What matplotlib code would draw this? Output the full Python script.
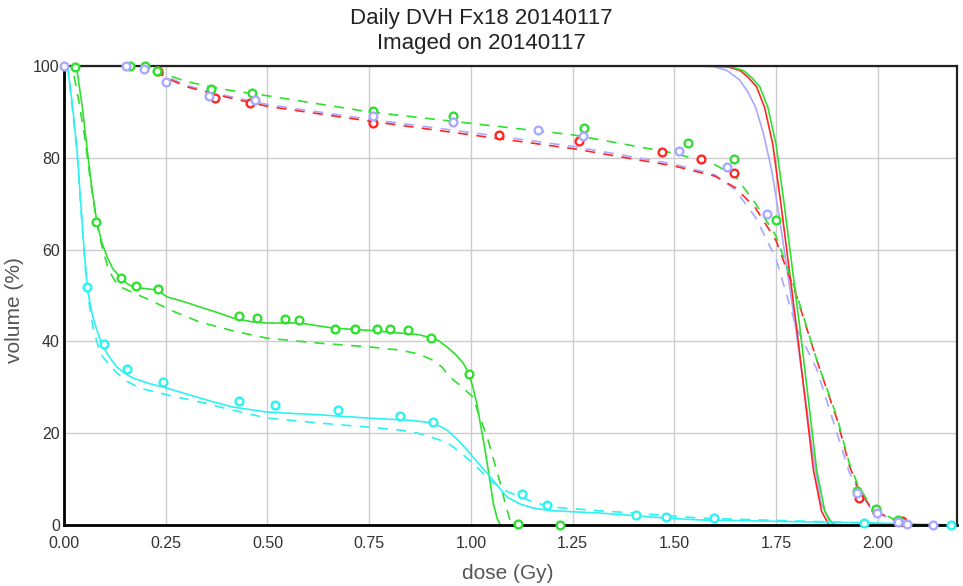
import matplotlib
matplotlib.use("Agg")
import matplotlib.pyplot as plt

plt.rcParams['font.family'] = ['Liberation Sans', 'DejaVu Sans']

GREEN = '#2fe02f'
RED = '#ff2626'
LAVENDER = '#a9a9ff'
CYAN = '#2ef2f2'

# planned DVH of the target (solid)
target_plan_dose = {
    'green':    [0, 1.60, 1.64, 1.67, 1.69, 1.71, 1.73, 1.75, 1.77, 1.79, 1.81,
                 1.83, 1.85, 1.87, 1.89],
    'red':      [0, 1.592, 1.632, 1.662, 1.682, 1.702, 1.722, 1.742, 1.762, 1.782,
                 1.802, 1.822, 1.842, 1.862, 1.88],
    'lavender': [0, 1.56, 1.60, 1.63, 1.66, 1.68, 1.70, 1.72, 1.74, 1.76, 1.78,
                 1.80, 1.82, 1.84, 1.86, 1.88, 1.90],
}
target_plan_vol = {
    'green':    [100, 100, 99.8, 99, 97.5, 95.5, 91, 83, 70, 56, 42, 27, 12, 3, 0],
    'red':      [100, 100, 99.8, 99, 97.5, 95.5, 91, 83, 70, 56, 42, 27, 12, 3, 0],
    'lavender': [100, 100, 99.8, 99, 97, 94.5, 91, 85, 77, 66, 54, 42, 29, 16, 5, 1, 0],
}

# daily DVH of the target (dashed)
target_daily_dose = [0, 0.20, 0.22, 0.25, 0.30, 0.40, 0.50, 0.75, 1.00, 1.25, 1.50, 1.60,
                     1.65, 1.70, 1.75, 1.80, 1.85, 1.90, 1.93, 1.95, 1.98, 2.00, 2.05, 2.10]
target_daily_vol = {
    'green':    [100, 100, 99.4, 98.2, 96.6, 94.8, 93.5, 90, 87.5, 85, 81, 78.5, 76, 70,
                 63, 50.5, 36, 23.5, 13.5, 9, 4.5, 3, 0.8, 0],
    'red':      [100, 100, 99.2, 97.5, 95.5, 93.2, 91.2, 88, 85, 82, 78.2, 76, 73.5, 69,
                 62, 50, 36, 23, 13, 8.5, 4.2, 2.8, 0.7, 0],
    'lavender': [100, 100, 99.3, 97.8, 95.8, 93.5, 91.6, 88.4, 85.5, 82.5, 78.6, 76.3, 73,
                 67, 58, 43, 34, 20, 11.5, 8, 4, 2.6, 0.6, 0],
}

# measured points on the target
target_pts_dose = {
    'green': [0.027, 0.162, 0.199, 0.229, 0.361, 0.462, 0.76, 0.957, 1.278, 1.534,
              1.647, 1.75, 1.95, 1.996, 2.05],
    'red': [0.23, 0.371, 0.457, 0.76, 1.07, 1.266, 1.47, 1.566, 1.647, 1.954, 1.996, 2.06],
    'lavender': [0.0, 0.152, 0.197, 0.25, 0.357, 0.47, 0.76, 0.957, 1.165, 1.276, 1.512,
                 1.63, 1.728, 1.949, 1.998, 2.05, 2.072, 2.136],
}
target_pts_vol = {
    'green': [99.8, 100, 100, 98.9, 95, 94.1, 90.2, 89.1, 86.5, 83.2, 79.7, 66.4, 7.5, 3.5, 1],
    'red': [98.8, 93, 91.9, 87.6, 85, 83.7, 81.3, 79.7, 76.7, 5.9, 3.2, 0.8],
    'lavender': [100, 100, 99.4, 96.5, 93.5, 92.6, 89.1, 87.8, 86.1, 84.7, 81.5, 78,
                 67.8, 7, 2.6, 0.7, 0.2, 0],
}

# organ 1 (green)
organ1_plan_dose = [0, 0.02, 0.032, 0.045, 0.057, 0.069, 0.081, 0.093, 0.106, 0.12, 0.138,
                    0.155, 0.17, 0.2, 0.229, 0.253, 0.3, 0.334, 0.38, 0.415, 0.46, 0.499,
                    0.58, 0.661, 0.75, 0.826, 0.87, 0.892, 0.92, 0.941, 0.962, 0.981,
                    0.995, 1.005, 1.015, 1.023, 1.032, 1.04, 1.048, 1.055, 1.064, 1.072]
organ1_plan_vol = [100, 100, 99, 91, 81.7, 73, 65.8, 61.5, 58.4, 55.8, 54, 52.6, 51.8,
                   51.5, 51.2, 49.7, 48.5, 47.5, 46.2, 45.1, 44.3, 44, 44, 42.9, 42.4,
                   41.8, 41.5, 41, 40.2, 38.8, 37.2, 35.3, 33, 30, 26.3, 22.2, 17.8,
                   13.5, 9, 4.8, 1.6, 0]
organ1_daily_dose = [0, 0.02, 0.035, 0.05, 0.065, 0.08, 0.095, 0.11, 0.125, 0.138, 0.17,
                     0.211, 0.27, 0.334, 0.42, 0.499, 0.629, 0.75, 0.826, 0.87, 0.907,
                     0.93, 0.949, 0.975, 1.005, 1.02, 1.04, 1.055, 1.072, 1.085, 1.096, 1.11]
organ1_daily_vol = [100, 100, 93, 85, 75, 66, 60, 55.5, 53.2, 51.9, 50.6, 49, 46.5, 44.2,
                    42.2, 40.7, 39.6, 38.8, 38.1, 37.3, 35.9, 34.3, 32.2, 30.3, 27.9, 24,
                    19.2, 14.5, 9.2, 4.5, 1.1, 0]
organ1_pts_dose = [0.079, 0.14, 0.177, 0.231, 0.43, 0.474, 0.543, 0.578, 0.666, 0.715,
                   0.769, 0.801, 0.846, 0.902, 0.996, 1.116, 1.219]
organ1_pts_vol = [66, 53.8, 52.1, 51.4, 45.5, 45.1, 44.9, 44.7, 42.7, 42.7, 42.7, 42.7,
                  42.5, 40.7, 32.9, 0.3, 0]

# organ 2 (cyan)
organ2_plan_dose = [0, 0.01, 0.02, 0.032, 0.047, 0.057, 0.064, 0.071, 0.083, 0.096, 0.113,
                    0.13, 0.15, 0.17, 0.21, 0.253, 0.31, 0.36, 0.415, 0.499, 0.629, 0.745,
                    0.85, 0.892, 0.92, 0.941, 0.966, 0.991, 1.015, 1.04, 1.065, 1.089,
                    1.12, 1.153, 1.2, 1.318, 1.482, 1.563, 1.75, 1.95, 2.10, 2.20]
organ2_plan_vol = [100, 99, 92, 81.7, 62.7, 51.9, 48.2, 45.3, 41.8, 38.8, 36.4, 34.4,
                   33, 32, 30.8, 29.8, 28.3, 27, 25.7, 24.6, 24, 23.3, 22.8, 22.4, 21.7,
                   20.7, 18.7, 16.3, 13.8, 11.3, 8.6, 6.1, 4.6, 3.7, 3.1, 2.6, 1.5, 1.1,
                   0.8, 0.5, 0.2, 0]
organ2_daily_dose = [0, 0.01, 0.02, 0.032, 0.047, 0.057, 0.07, 0.088, 0.11, 0.13, 0.155,
                     0.187, 0.26, 0.334, 0.42, 0.499, 0.629, 0.75, 0.826, 0.87, 0.907,
                     0.935, 0.957, 0.985, 1.015, 1.035, 1.055, 1.085, 1.121, 1.16, 1.202,
                     1.3, 1.399, 1.563, 1.75, 1.95, 2.10]
organ2_daily_vol = [100, 99, 91, 81, 62, 51, 43.5, 37.5, 35, 33.1, 31.3, 29.8, 28.2,
                    26.8, 24.9, 23.3, 22.2, 21.3, 20.7, 20, 19, 18.2, 17, 15, 12.6, 10.8,
                    9.2, 7.5, 6.1, 4.8, 3.9, 3.2, 2.6, 1.5, 1.0, 0.5, 0]
organ2_pts_dose = [0.057, 0.098, 0.155, 0.243, 0.43, 0.519, 0.673, 0.826, 0.907, 1.126,
                   1.187, 1.406, 1.48, 1.598, 1.967, 2.18]
organ2_pts_vol = [51.9, 39.4, 34, 31.2, 27, 26.1, 25.1, 23.7, 22.4, 6.8, 4.4, 2.2, 1.8,
                  1.5, 0.4, 0]

x_ticks = [0.00, 0.25, 0.50, 0.75, 1.00, 1.25, 1.50, 1.75, 2.00]
y_ticks = [0, 20, 40, 60, 80, 100]

colours = {'green': GREEN, 'red': RED, 'lavender': LAVENDER}

fig = plt.figure(figsize=(9.63, 5.86), dpi=100)
ax = fig.add_axes([0.0665, 0.1041, 0.9273, 0.7833])

dash = (0, (6, 5))
lw = 1.2

for key in ['lavender', 'red', 'green']:
    c = colours[key]
    ax.plot(target_plan_dose[key], target_plan_vol[key], color=c, lw=lw)
    ax.plot(target_daily_dose, target_daily_vol[key], color=c, lw=lw, linestyle=dash)

ax.plot(organ1_plan_dose, organ1_plan_vol, color=GREEN, lw=lw)
ax.plot(organ1_daily_dose, organ1_daily_vol, color=GREEN, lw=lw, linestyle=dash)
ax.plot(organ2_plan_dose, organ2_plan_vol, color=CYAN, lw=lw)
ax.plot(organ2_daily_dose, organ2_daily_vol, color=CYAN, lw=lw, linestyle=dash)

marker_kw = dict(linestyle='none', marker='o', markersize=5.6, markeredgewidth=1.7,
                 markerfacecolor='white', clip_on=False, zorder=5)
ax.plot(organ1_pts_dose, organ1_pts_vol, color=GREEN, **marker_kw)
ax.plot(organ2_pts_dose, organ2_pts_vol, color=CYAN, **marker_kw)
for key in ['red', 'green', 'lavender']:
    ax.plot(target_pts_dose[key], target_pts_vol[key], color=colours[key], **marker_kw)

ax.set_xlim(0, 2.195)
ax.set_ylim(0, 100)
ax.set_xticks(x_ticks)
ax.set_xticklabels([f'{t:.2f}' for t in x_ticks])
ax.set_yticks(y_ticks)
ax.grid(True, color='#cccccc', lw=1)
ax.set_axisbelow(True)
ax.tick_params(length=0, labelsize=11.5, colors='#333333')
ax.tick_params(axis='x', pad=8)
ax.tick_params(axis='y', pad=3)

for side in ['left', 'bottom']:
    ax.spines[side].set_linewidth(2)
    ax.spines[side].set_color('black')
for side in ['top', 'right']:
    ax.spines[side].set_linewidth(1.6)
    ax.spines[side].set_color('#222222')

ax.set_xlabel('dose (Gy)', fontsize=15, color='#555555', va='center')
ax.set_ylabel('volume (%)', fontsize=15, color='#555555', va='center')
ax.xaxis.set_label_coords(0.497, -0.105)
ax.yaxis.set_label_coords(-0.055, 0.468)
fig.text(0.5, 0.969, 'Daily DVH Fx18 20140117', ha='center', va='center',
         fontsize=16, color='#222222')
fig.text(0.5, 0.926, 'Imaged on 20140117', ha='center', va='center',
         fontsize=16, color='#222222')

fig.savefig('out.png', dpi=100)
